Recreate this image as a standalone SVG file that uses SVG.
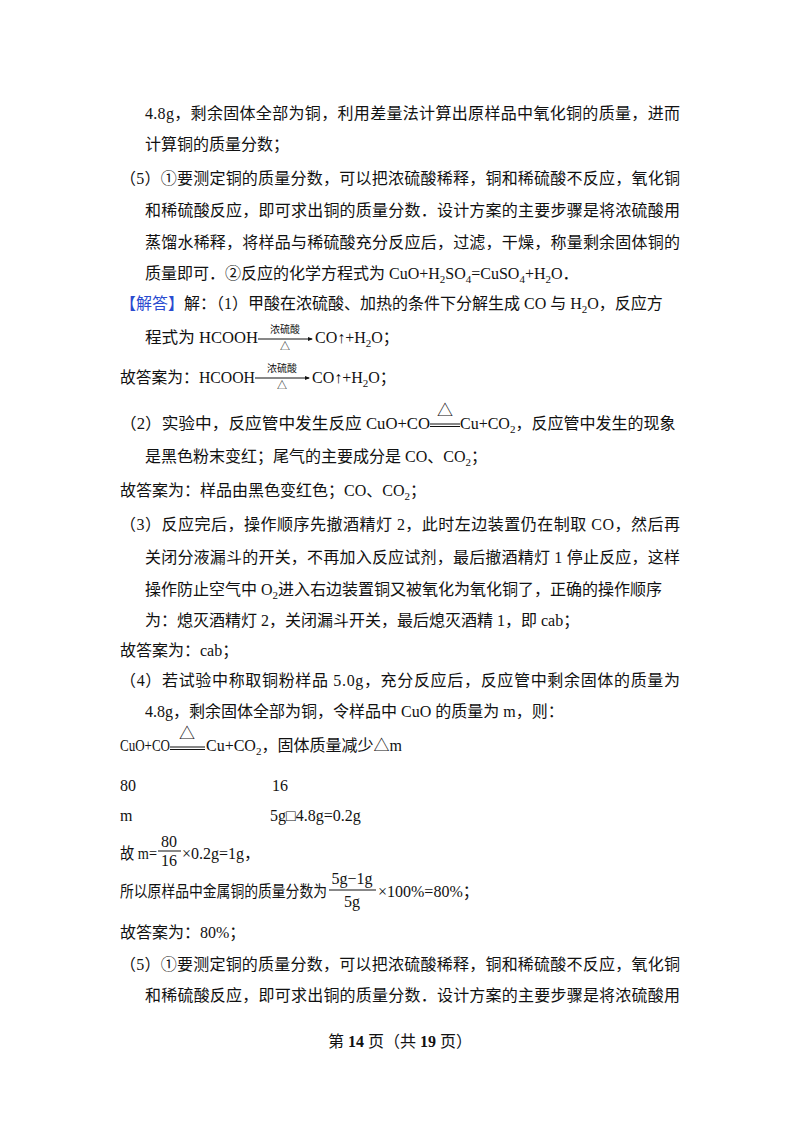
<svg xmlns="http://www.w3.org/2000/svg" width="800" height="1132" viewBox="0 0 800 1132">
<style>
text{font-family:"Liberation Serif","Noto Sans CJK SC",serif;font-size:16px;fill:#111}
.s{font-size:11px}
.sm{font-size:10px}
.b{fill:#2a4bd0}
line{stroke:#111;stroke-width:1}
</style>
<rect width="800" height="1132" fill="#fff"/>
<g id="body">
<text x="145" y="119" textLength="535" lengthAdjust="spacing">4.8g，剩余固体全部为铜，利用差量法计算出原样品中氧化铜的质量，进而</text>
<text x="145" y="150">计算铜的质量分数；</text>
<text x="120" y="184" textLength="560" lengthAdjust="spacing">（5）①要测定铜的质量分数，可以把浓硫酸稀释，铜和稀硫酸不反应，氧化铜</text>
<text x="145" y="216" textLength="535" lengthAdjust="spacing">和稀硫酸反应，即可求出铜的质量分数．设计方案的主要步骤是将浓硫酸用</text>
<text x="145" y="248" textLength="535" lengthAdjust="spacing">蒸馏水稀释，将样品与稀硫酸充分反应后，过滤，干燥，称量剩余固体铜的</text>
<text x="145" y="279">质量即可．②反应的化学方程式为 CuO+H<tspan class="s" dy="4">2</tspan><tspan dy="-4">SO</tspan><tspan class="s" dy="4">4</tspan><tspan dy="-4">=CuSO</tspan><tspan class="s" dy="4">4</tspan><tspan dy="-4">+H</tspan><tspan class="s" dy="4">2</tspan><tspan dy="-4">O．</tspan></text>
<text x="120" y="309"><tspan class="b">【解答】</tspan>解：（1）甲酸在浓硫酸、加热的条件下分解生成 CO 与 H<tspan class="s" dy="4">2</tspan><tspan dy="-4">O，反应方</tspan></text>
<text x="145" y="343" textLength="113" lengthAdjust="spacingAndGlyphs">程式为 HCOOH</text>
<line x1="258" y1="339" x2="312" y2="339"/><path d="M308,337 L313,339 L308,341Z" fill="#111"/>
<text class="sm" x="285" y="333" text-anchor="middle">浓硫酸</text>
<text class="sm" x="285" y="350" text-anchor="middle">△</text>
<text x="315" y="343">CO↑+H<tspan class="s" dy="4">2</tspan><tspan dy="-4">O；</tspan></text>
<text x="120" y="383" textLength="135" lengthAdjust="spacingAndGlyphs">故答案为：HCOOH</text>
<line x1="255" y1="378" x2="309" y2="378"/><path d="M305,376 L310,378 L305,380Z" fill="#111"/>
<text class="sm" x="282" y="372" text-anchor="middle">浓硫酸</text>
<text class="sm" x="282" y="389" text-anchor="middle">△</text>
<text x="312" y="383">CO↑+H<tspan class="s" dy="4">2</tspan><tspan dy="-4">O；</tspan></text>
<text x="120" y="429" textLength="310" lengthAdjust="spacingAndGlyphs">（2）实验中，反应管中发生反应 CuO+CO</text>
<line x1="430" y1="424" x2="460" y2="424"/><line x1="430" y1="426.5" x2="460" y2="426.5"/>
<text x="445" y="416" text-anchor="middle" font-size="14">△</text>
<text x="460" y="429">Cu+CO<tspan class="s" dy="4">2</tspan><tspan dy="-4">，反应管中发生的现象</tspan></text>
<text x="145" y="462">是黑色粉末变红；尾气的主要成分是 CO、CO<tspan class="s" dy="4">2</tspan><tspan dy="-4">；</tspan></text>
<text x="120" y="496">故答案为：样品由黑色变红色；CO、CO<tspan class="s" dy="4">2</tspan><tspan dy="-4">；</tspan></text>
<text x="120" y="530" textLength="560" lengthAdjust="spacing">（3）反应完后，操作顺序先撤酒精灯 2，此时左边装置仍在制取 CO，然后再</text>
<text x="145" y="563" textLength="535" lengthAdjust="spacing">关闭分液漏斗的开关，不再加入反应试剂，最后撤酒精灯 1 停止反应，这样</text>
<text x="145" y="595">操作防止空气中 O<tspan class="s" dy="4">2</tspan><tspan dy="-4">进入右边装置铜又被氧化为氧化铜了，正确的操作顺序</tspan></text>
<text x="145" y="626">为：熄灭酒精灯 2，关闭漏斗开关，最后熄灭酒精 1，即 cab；</text>
<text x="120" y="656">故答案为：cab；</text>
<text x="120" y="686" textLength="560" lengthAdjust="spacing">（4）若试验中称取铜粉样品 5.0g，充分反应后，反应管中剩余固体的质量为</text>
<text x="145" y="717">4.8g，剩余固体全部为铜，令样品中 CuO 的质量为 m，则：</text>
<text x="120" y="751" textLength="50" lengthAdjust="spacingAndGlyphs">CuO+CO</text>
<line x1="170" y1="747" x2="205" y2="747"/><line x1="170" y1="749.5" x2="205" y2="749.5"/>
<text x="187" y="739" text-anchor="middle" font-size="14">△</text>
<text x="206" y="751">Cu+CO<tspan class="s" dy="4">2</tspan><tspan dy="-4">，固体质量减少△m</tspan></text>
<text x="120" y="791">80</text>
<text x="272" y="791">16</text>
<text x="120" y="821">m</text>
<text x="270" y="821">5g□4.8g=0.2g</text>
<text x="120" y="859" textLength="37" lengthAdjust="spacingAndGlyphs">故 m=</text>
<text x="169" y="847" text-anchor="middle" font-size="13">80</text>
<line x1="158" y1="851" x2="181" y2="851"/>
<text x="169" y="866" text-anchor="middle" font-size="13">16</text>
<text x="182" y="859">×0.2g=1g，</text>
<text x="120" y="897" textLength="207" lengthAdjust="spacingAndGlyphs">所以原样品中金属铜的质量分数为</text>
<text x="352" y="884" text-anchor="middle" font-size="12">5g−1g</text>
<line x1="329" y1="890" x2="376" y2="890"/>
<text x="352" y="907" text-anchor="middle" font-size="12">5g</text>
<text x="378" y="897">×100%=80%；</text>
<text x="120" y="938">故答案为：80%；</text>
<text x="120" y="970" textLength="560" lengthAdjust="spacing">（5）①要测定铜的质量分数，可以把浓硫酸稀释，铜和稀硫酸不反应，氧化铜</text>
<text x="145" y="1001" textLength="535" lengthAdjust="spacing">和稀硫酸反应，即可求出铜的质量分数．设计方案的主要步骤是将浓硫酸用</text>
<text x="400" y="1047" text-anchor="middle" font-size="12">第 <tspan font-weight="bold">14</tspan> 页（共 <tspan font-weight="bold">19</tspan> 页）</text>
</g>
</svg>
